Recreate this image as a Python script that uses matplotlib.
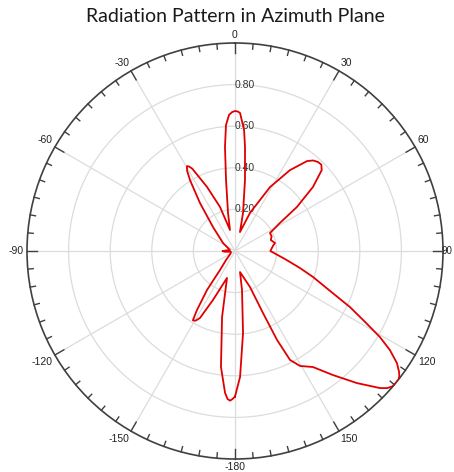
import numpy as np
import matplotlib
matplotlib.use("Agg")
import matplotlib.pyplot as plt

# ---- data (angle in degrees, clockwise from North; normalized gain) ----
angle_deg = [-180, -179, -178.1, -177.1, -176, -173.1, -168.9, -163.5, -155.8, -152.4,
             -150.5, -148.7, -147.2, -144.3, -141.7, -135, -120, -100, -94, -90, -86,
             -78.7, -56.3, -42.5, -36.1, -32.4, -30.8, -29.5, -28.5, -27.4, -23.6,
             -18.8, -13.4, -10.4, -7.2, -5.5, -4.1, -2.5, -1.2, 0, 1.1, 2.1, 4.3, 5.5,
             8.0, 11.9, 14.7, 21.5, 28.7, 34.2, 38.7, 40.8, 43, 45, 47, 50.6, 54.6,
             58, 62.8, 68, 73, 78.7, 82, 85.8, 90, 99.1, 104.7, 108.4, 112.8, 116,
             118.6, 120.7, 122.6, 124.7, 126.4, 127.3, 128.2, 129.5, 130.7, 132,
             133.4, 137.3, 141.7, 146.1, 150.5, 153.2, 154.7, 155.7, 157.4, 166.6,
             169.8, 174.4, 177.7, 180]
gain = [0.70, 0.712, 0.72, 0.712, 0.684, 0.562, 0.323, 0.135, 0.258, 0.363,
        0.385, 0.39, 0.337, 0.23, 0.116, 0.06, 0.025, 0.02, 0.05, 0.06, 0.04,
        0.025, 0.069, 0.157, 0.286, 0.404, 0.45, 0.469, 0.462, 0.445, 0.336,
        0.224, 0.104, 0.186, 0.344, 0.502, 0.607, 0.655, 0.668, 0.673, 0.671, 0.664, 0.583, 0.502,
        0.345, 0.187, 0.094, 0.197, 0.35, 0.47, 0.554, 0.575, 0.585, 0.587, 0.57, 0.485, 0.365,
        0.255, 0.189, 0.19, 0.18, 0.196, 0.185, 0.177, 0.17, 0.243, 0.323, 0.395, 0.496, 0.615,
        0.712, 0.81, 0.884, 0.947, 0.98, 0.993, 1.0, 1.0, 0.998, 0.985,
        0.959, 0.864, 0.76, 0.672, 0.635, 0.587, 0.473, 0.327, 0.1875, 0.104,
        0.19, 0.396, 0.606, 0.70]

angle_ticks = [0, 30, 60, 90, 120, 150, 180, -150, -120, -90, -60, -30]
angle_labels = ["0", "30", "60", "90", "120", "150", "-180", "-150", "-120", "-90", "-60", "-30"]
radial_ticks = [0.2, 0.4, 0.6, 0.8]
radial_labels = ["0.20", "0.40", "0.60", "0.80"]
title = "Radiation Pattern in Azimuth Plane"

W, H = 454, 472
fig = plt.figure(figsize=(W / 100, H / 100), dpi=100)
cx, cy, R = 235, 251, 208
ax = fig.add_axes([(cx - R) / W, (H - cy - R) / H, 2 * R / W, 2 * R / H], projection="polar")
ax.set_theta_zero_location("N")
ax.set_theta_direction(-1)
ax.set_ylim(0, 1.0)

ax.set_xticks(np.deg2rad(np.arange(0, 360, 30)))
ax.set_xticklabels([])
ax.set_yticks(radial_ticks)
ax.set_yticklabels([])
ax.grid(True, color="#dcdcdc", linewidth=0.9)
ax.spines["polar"].set_color("#404040")
ax.spines["polar"].set_linewidth(1.2)
ax.tick_params(axis="both", length=0)

# tick marks on the outer circle
for a in range(0, 360, 5):
    ln = 0.05 if a % 30 == 0 else 0.026
    ax.plot([np.deg2rad(a)] * 2, [1 - ln, 1.0], color="#404040", lw=1.0,
            clip_on=False, zorder=3)

# angle labels
for a, lab in zip(angle_ticks, angle_labels):
    t = np.deg2rad(a)
    fs = 7.5
    if a == 0:
        ha, va = "center", "bottom"
    elif a == 180:
        ha, va = "center", "top"
    elif a == 90:
        ha, va = "left", "center"
        fs = 7
    elif a == -90:
        ha, va = "right", "center"
    elif 0 < a < 90:
        ha, va = "left", "bottom"
    elif a > 90:
        ha, va = "left", "top"
    elif -90 < a < 0:
        ha, va = "right", "bottom"
    else:
        ha, va = "right", "top"
    r = 0.995 if a == 90 else 1.015
    ax.text(t, r, lab, ha=ha, va=va, fontsize=fs, color="#222222",
            family="Liberation Sans", clip_on=False, zorder=6)

# radial labels
for rv, lab in zip(radial_ticks, radial_labels):
    ax.text(0, rv, lab, ha="left", va="center", fontsize=7.5, color="#333333",
            family="Liberation Sans", zorder=4)

th = np.deg2rad(np.array(angle_deg))
ax.plot(th, np.array(gain), color="#e00000", lw=1.3, zorder=5,
        solid_joinstyle="round")

fig.text(cx / W, 1 - 17 / H, title, ha="center", va="center", fontsize=14,
         family="Lato", color="#1a1a1a")

fig.savefig("out.png", dpi=100)
